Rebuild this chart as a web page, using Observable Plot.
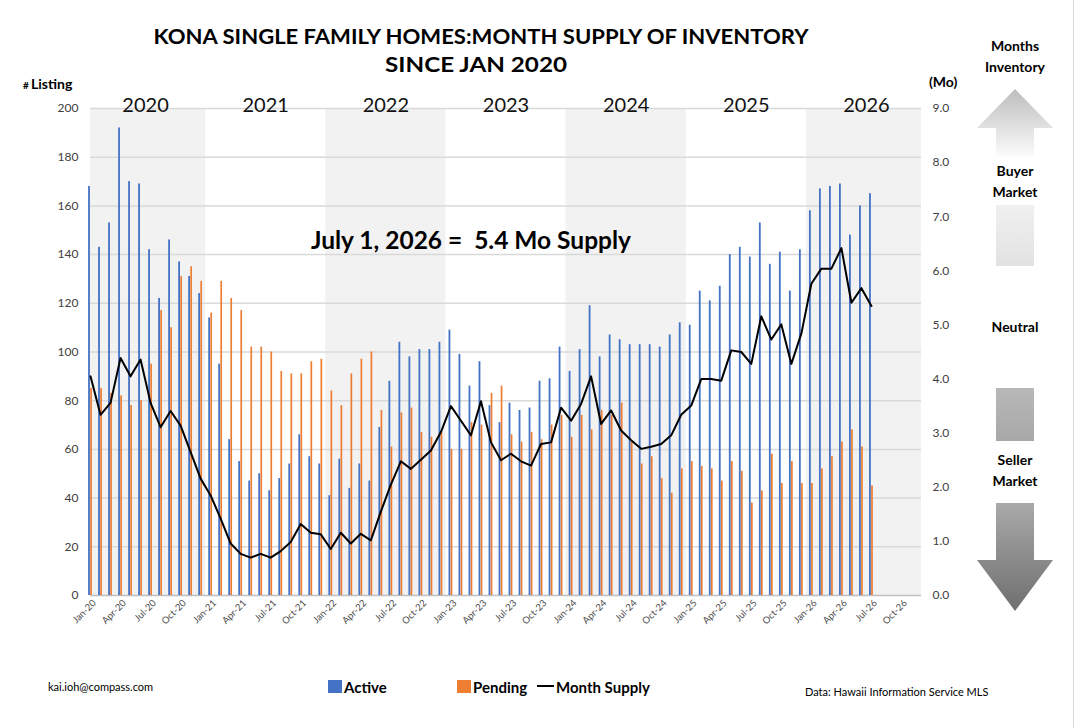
<!DOCTYPE html>
<html><head><meta charset="utf-8">
<script src="https://cdn.jsdelivr.net/npm/d3@7"></script>
<script src="https://cdn.jsdelivr.net/npm/@observablehq/plot@0.6"></script>
<style>
body{margin:0;background:#fff;}
#chart svg{font-family:Lato,"Open Sans",sans-serif;}
</style>
</head><body><div id="chart"></div>
<script>
// ---- Data (Jan-20 .. Jul-26, monthly) ----
const active = [168,143,153,192,170,169,142,122,146,137,131,124,
  114,95,64,55,47,50,43,48,54,66,57,54,
  41,56,44,54,47,69,88,104,98,101,101,104,
  109,99,86,96,78,71,79,76,77,88,89,102,
  92,101,119,98,107,105,103,103,103,102,107,112,
  111,125,121,127,140,143,139,153,136,141,125,142,
  158,167,168,169,148,160,165];
const pending = [85,85,83,82,78,80,95,117,110,131,135,129,
  116,129,122,117,102,102,100,92,91,91,96,97,
  84,78,91,97,100,76,61,75,77,67,65,67,
  60,60,71,70,83,86,66,63,67,64,70,74,
  65,74,68,76,74,79,63,54,57,48,42,52,
  55,53,52,47,55,51,38,43,58,46,55,46,
  46,52,57,63,68,61,45];
const supply = [4.05,3.34,3.56,4.39,4.05,4.36,3.56,3.11,3.41,3.14,2.65,2.16,
  1.85,1.42,0.96,0.77,0.70,0.77,0.70,0.82,0.99,1.32,1.16,1.13,
  0.86,1.16,0.96,1.14,1.02,1.55,2.05,2.48,2.34,2.51,2.68,3.02,
  3.50,3.23,2.96,3.59,2.83,2.50,2.62,2.48,2.40,2.80,2.83,3.47,
  3.23,3.54,4.05,3.17,3.42,3.05,2.87,2.71,2.75,2.80,2.96,3.34,
  3.51,4.00,4.00,3.97,4.53,4.50,4.28,5.16,4.73,5.01,4.28,4.84,
  5.76,6.04,6.04,6.42,5.41,5.68,5.35];
const tickLabels = ["Jan-20","Apr-20","Jul-20","Oct-20","Jan-21","Apr-21","Jul-21","Oct-21",
  "Jan-22","Apr-22","Jul-22","Oct-22","Jan-23","Apr-23","Jul-23","Oct-23",
  "Jan-24","Apr-24","Jul-24","Oct-24","Jan-25","Apr-25","Jul-25","Oct-25",
  "Jan-26","Apr-26","Jul-26","Oct-26"];
const years = [2020,2021,2022,2023,2024,2025,2026];
const leftTicks = [0,20,40,60,80,100,120,140,160,180,200];
const rightTicks = [0,1,2,3,4,5,6,7,8,9];

// ---- build tables ----
const rows = active.map((a,i)=>({i, active:a, pending:pending[i], supply:supply[i]}));
const nCat = 84; // Jan-20 .. Dec-26 categories
const bands = years.map((y,k)=>({year:y, k,
  x1: Math.max(0, k*12-0.5), x2: Math.min(nCat-1, k*12+11.5), mid: k*12+5.5}));
const toLeft = v => v*200/9;

const plot = Plot.plot({
  width:1080, height:728,
  marginLeft:90, marginRight:159, marginTop:108, marginBottom:133,
  x:{type:"linear", domain:[0,nCat-1]},
  y:{domain:[0,200]},
  marks:[
    Plot.rect(bands.filter(b=>b.k%2===0), {x1:"x1", x2:"x2", y1:0, y2:200, fill:"#f2f2f2"}),
    Plot.ruleY(leftTicks.slice(1), {stroke:"#d9d9d9", strokeWidth:1.5}),
    Plot.ruleY([0], {stroke:"#bfbfbf", strokeWidth:1.5}),
    Plot.rect(rows, {x1:d=>d.i-0.19, x2:d=>d.i-0.01, y1:0, y2:"active", fill:"#4472C4"}),
    Plot.rect(rows, {x1:d=>d.i+0.02, x2:d=>d.i+0.19, y1:0, y2:"pending", fill:"#ED7D31"}),
    Plot.line(rows, {x:"i", y:d=>toLeft(d.supply), stroke:"#000", strokeWidth:2}),
    Plot.axisY({ticks:leftTicks, tickSize:0, tickPadding:12, fontSize:12, label:null, color:"#404040"}),
    Plot.axisY({anchor:"right", ticks:rightTicks.map(toLeft), tickFormat:d=>(d*9/200).toFixed(1),
      tickSize:0, tickPadding:11, fontSize:12, label:null, color:"#404040"}),
    Plot.axisX({ticks:tickLabels.map((t,j)=>j*3), tickFormat:i=>tickLabels[i/3], tickRotate:-45,
      tickSize:0, tickPadding:6, dx:4, fontSize:9.5, label:null, color:"#4d4d4d"}),
    Plot.text(bands, {x:"mid", text:d=>String(d.year), frameAnchor:"top", dy:-11, fontSize:20, fill:"#111"})
  ]
});
document.getElementById("chart").appendChild(plot);

// ---- decorations / titles ----
const svg = d3.select(plot);
function txt(x,y,s,opts={}){
  const t = svg.append("text").attr("x",x).attr("y",y).text(s)
    .attr("font-size",opts.size||12).attr("font-weight",opts.weight||"normal")
    .attr("text-anchor",opts.anchor||"start").attr("fill",opts.fill||"#000");
  if(opts.len) t.attr("textLength",opts.len).attr("lengthAdjust","spacingAndGlyphs");
  return t;
}
txt(481,44,"KONA SINGLE FAMILY HOMES:MONTH SUPPLY OF INVENTORY",{size:21,weight:"bold",anchor:"middle",len:655});
txt(476,72,"SINCE JAN 2020",{size:21,weight:"bold",anchor:"middle",len:182});
txt(23,89,"#",{size:10,weight:"bold"});
txt(31,89,"Listing",{size:14,weight:"bold"});
txt(929,87,"(Mo)",{size:14,weight:"bold"});
txt(311,249,"July 1, 2026 =  5.4 Mo Supply",{size:24,weight:"bold",len:320});

// right panel
const defs = svg.append("defs");
function grad(id,c1,c2){
  const g = defs.append("linearGradient").attr("id",id).attr("x1",0).attr("y1",0).attr("x2",0).attr("y2",1);
  g.append("stop").attr("offset","0%").attr("stop-color",c1);
  g.append("stop").attr("offset","100%").attr("stop-color",c2);
}
grad("gUp","#bdbdbd","#fbfbfb");
grad("gLight","#f0f0f0","#e2e2e2");
grad("gMid","#b8b8b8","#a8a8a8");
grad("gDown","#a9a9a9","#6f6f6f");
svg.append("path").attr("d","M1015,89 L1053,128 L1034,128 L1034,156 L996,156 L996,128 L977,128 Z").attr("fill","url(#gUp)");
svg.append("rect").attr("x",996).attr("y",205).attr("width",38).attr("height",61).attr("fill","url(#gLight)");
svg.append("rect").attr("x",996).attr("y",388).attr("width",38).attr("height",53).attr("fill","url(#gMid)");
svg.append("path").attr("d","M996,503 L1034,503 L1034,560 L1053,560 L1015,611 L977,560 L996,560 Z").attr("fill","url(#gDown)");
txt(1015,51,"Months",{size:14,weight:"bold",anchor:"middle"});
txt(1015,72,"Inventory",{size:14,weight:"bold",anchor:"middle"});
txt(1015,176,"Buyer",{size:14,weight:"bold",anchor:"middle"});
txt(1015,197,"Market",{size:14,weight:"bold",anchor:"middle"});
txt(1015,332,"Neutral",{size:14,weight:"bold",anchor:"middle"});
txt(1015,465,"Seller",{size:14,weight:"bold",anchor:"middle"});
txt(1015,486,"Market",{size:14,weight:"bold",anchor:"middle"});
svg.append("line").attr("x1",1073.5).attr("x2",1073.5).attr("y1",0).attr("y2",728).attr("stroke","#d9d9d9");

// legend + footer
svg.append("rect").attr("x",328).attr("y",680).attr("width",14).attr("height",13).attr("fill","#4472C4");
txt(344,693,"Active",{size:15,weight:"bold"});
svg.append("rect").attr("x",457).attr("y",680).attr("width",14).attr("height",13).attr("fill","#ED7D31");
txt(473,693,"Pending",{size:15,weight:"bold"});
svg.append("line").attr("x1",537).attr("x2",554).attr("y1",686).attr("y2",686).attr("stroke","#000").attr("stroke-width",2);
txt(556,693,"Month Supply",{size:15,weight:"bold"});
txt(48,691,"kai.ioh@compass.com",{size:11});
txt(805,696,"Data: Hawaii Information Service MLS",{size:11});
</script>
</body></html>
